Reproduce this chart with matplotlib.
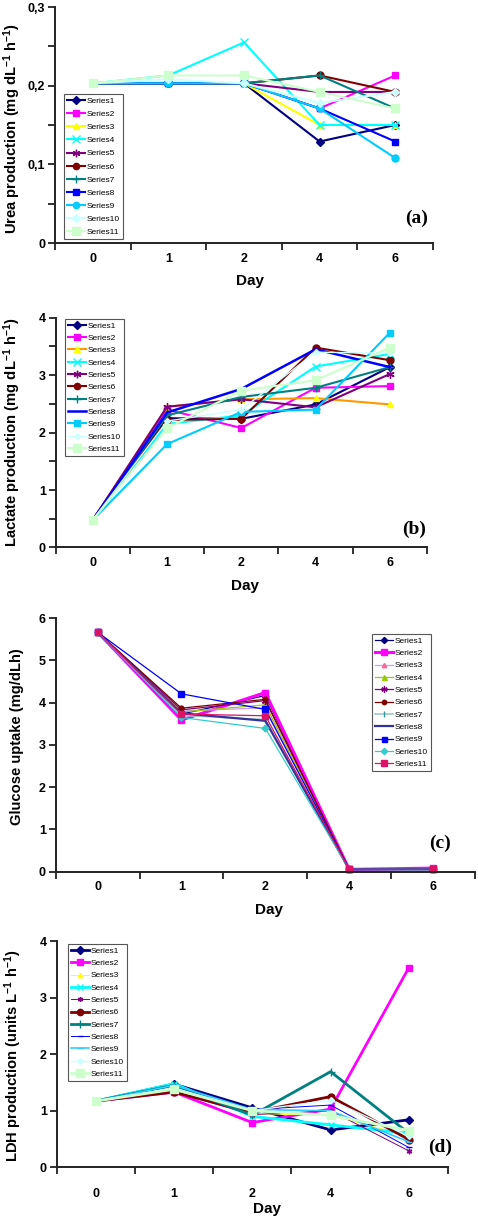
import numpy as np
import matplotlib
matplotlib.use("Agg")
import matplotlib.pyplot as plt
from matplotlib.ticker import FixedLocator, NullFormatter

plt.rcParams['font.family'] = ['Liberation Sans', 'DejaVu Sans']
plt.rcParams['mathtext.fontset'] = 'custom'
plt.rcParams['mathtext.rm'] = 'Liberation Sans:bold'
plt.rcParams['mathtext.bf'] = 'Liberation Sans:bold'
plt.rcParams['mathtext.it'] = 'Liberation Sans:bold'

# ---------------- data ----------------
days = ['0', '1', '2', '4', '6']
series_names = ['Series%d' % i for i in range(1, 12)]

urea = [
    [0.203, 0.203, 0.203, 0.129, 0.150],
    [0.203, 0.203, 0.203, 0.171, 0.213],
    [0.203, 0.203, 0.203, 0.150, 0.150],
    [0.203, 0.213, 0.255, 0.150, 0.150],
    [0.203, 0.203, 0.203, 0.192, 0.192],
    [0.203, 0.203, 0.203, 0.213, 0.192],
    [0.203, 0.203, 0.203, 0.213, 0.171],
    [0.203, 0.203, 0.203, 0.171, 0.129],
    [0.203, 0.203, 0.203, 0.171, 0.108],
    [0.203, 0.208, 0.203, 0.178, 0.192],
    [0.203, 0.213, 0.213, 0.192, 0.171],
]

lactate = [
    [0.48, 2.25, 2.24, 2.49, 3.14],
    [0.48, 2.40, 2.08, 2.78, 2.81],
    [0.48, 2.45, 2.58, 2.60, 2.49],
    [0.48, 2.15, 2.30, 3.15, 3.37],
    [0.48, 2.45, 2.58, 2.44, 3.02],
    [0.48, 2.22, 2.24, 3.48, 3.26],
    [0.48, 2.30, 2.62, 2.78, 3.14],
    [0.48, 2.35, 2.76, 3.45, 3.14],
    [0.48, 1.80, 2.36, 2.40, 3.74],
    [0.48, 2.20, 2.40, 3.40, 3.38],
    [0.48, 2.08, 2.73, 2.91, 3.48],
]

glucose = [
    [5.67, 3.73, 4.17, 0.05, 0.05],
    [5.67, 3.59, 4.24, 0.05, 0.08],
    [5.67, 3.80, 3.88, 0.05, 0.05],
    [5.67, 3.78, 3.95, 0.05, 0.05],
    [5.67, 3.83, 4.05, 0.05, 0.05],
    [5.67, 3.87, 4.08, 0.05, 0.05],
    [5.67, 3.70, 3.60, 0.05, 0.05],
    [5.67, 3.75, 3.57, 0.05, 0.05],
    [5.67, 4.21, 3.84, 0.05, 0.05],
    [5.67, 3.65, 3.39, 0.05, 0.05],
    [5.67, 3.73, 3.69, 0.05, 0.05],
]

ldh = [
    [1.17, 1.47, 1.05, 0.66, 0.84],
    [1.17, 1.33, 0.79, 1.03, 3.53],
    [1.17, 1.40, 0.95, 0.92, 0.55],
    [1.17, 1.48, 0.90, 0.75, 0.60],
    [1.17, 1.33, 0.93, 1.00, 0.29],
    [1.17, 1.33, 0.97, 1.25, 0.49],
    [1.17, 1.45, 0.92, 1.69, 0.60],
    [1.17, 1.45, 1.02, 1.10, 0.35],
    [1.17, 1.45, 1.02, 1.00, 0.45],
    [1.17, 1.40, 1.00, 1.19, 0.55],
    [1.17, 1.38, 1.00, 0.92, 0.65],
]

# ---------------- styles ----------------
AST = (6, 2, 0)
NAVY, MAG, YEL, CYAN, PURP, DRED, TEAL, BLUE, SKY, LCYAN, LGREEN = (
    '#000080', '#FF00FF', '#FFFF00', '#00FFFF', '#800080', '#800000',
    '#008080', '#0000FF', '#00CCFF', '#CCFFFF', '#CCFFCC')

def st(color, marker, lw, ms, mfc=None, mec=None):
    return dict(color=color, marker=marker, lw=lw, ms=ms,
                mfc=mfc if mfc else color, mec=mec if mec else (mfc if mfc else color))

style_a = [st(NAVY, 'D', 1.5, 4), st(MAG, 's', 1.5, 5), st(YEL, '^', 1.5, 5),
           st(CYAN, 'x', 1.5, 6), st(PURP, AST, 1.5, 6), st(DRED, 'o', 1.5, 5),
           st(TEAL, '+', 1.5, 6), st(BLUE, 's', 1.5, 5), st(SKY, 'o', 1.5, 5),
           st(LCYAN, 'D', 1.5, 4), st(LGREEN, 's', 1.5, 6)]
style_b = [st(NAVY, 'D', 1.5, 4), st(MAG, 's', 1.5, 5), st('#FF9900', '^', 1.5, 5, YEL),
           st(CYAN, 'x', 1.5, 6), st(PURP, AST, 1.5, 6), st(DRED, 'o', 1.5, 5),
           st(TEAL, '+', 1.5, 6), st(BLUE, 'None', 1.8, 5), st(SKY, 's', 1.5, 5),
           st(LCYAN, 'D', 1.0, 3), st(LGREEN, 's', 1.5, 6)]
style_c = [st(NAVY, 'D', 0.9, 3.5), st(MAG, 's', 2.2, 5), st('#CC99FF', '^', 0.9, 3.5, '#FF6699'),
           st('#99CC00', '^', 0.9, 4), st(PURP, AST, 0.9, 5), st(DRED, 'o', 0.9, 3.5),
           st('#99CCCC', '|', 1.2, 5, '#339999'), st('#333399', 'None', 1.6, 4), st(BLUE, 's', 0.9, 4),
           st('#33CCCC', 'D', 0.9, 3.5), st('#DD1166', 's', 0.9, 4.5)]
style_d = [st(NAVY, 'D', 2.0, 4), st(MAG, 's', 2.0, 5), st(YEL, '^', 0.7, 3.5),
           st(CYAN, 'x', 2.0, 5), st(PURP, AST, 0.7, 4), st(DRED, 'o', 2.0, 5),
           st(TEAL, '+', 2.0, 6), st(BLUE, '_', 0.7, 4), st('#33CCFF', '_', 1.2, 5),
           st(LCYAN, 'D', 1.0, 3), st(LGREEN, 's', 2.0, 6)]

W, H = 478, 1216
fig = plt.figure(figsize=(W / 100, H / 100), dpi=100)

def rect(l, t, r, b):
    return [l / W, 1 - b / H, (r - l) / W, (b - t) / H]

panels = [
    dict(data=urea, style=style_a, rect=rect(55, 7, 433, 243), ylim=0.3,
         yticks=[0, 0.1, 0.2, 0.3], ylabels=['0', '0,1', '0,2', '0,3'], yminor=[0.05, 0.15, 0.25],
         ylabel=r'Urea production (mg dL$^{-1}$ h$^{-1}$)',
         leg=(64, 94), ls=0.64, tag='(a)', tagpos=(417, 218), daypos=(250, 281), xpad=3,
         ylx=(23, 128)),
    dict(data=lactate, style=style_b, rect=rect(55.7, 317.7, 427, 547.5), ylim=4,
         yticks=[0, 1, 2, 3, 4], ylabels=['0', '1', '2', '3', '4'], yminor=[0.5, 1.5, 2.5, 3.5],
         ylabel=r'Lactate production (mg dL$^{-1}$ h$^{-1}$)',
         leg=(65, 319), ls=0.54, tag='(b)', tagpos=(414, 529), daypos=(245, 586), xpad=3,
         ylx=(23, 432)),
    dict(data=glucose, style=style_c, rect=rect(55.7, 618.3, 475, 871.5), ylim=6,
         yticks=[0, 1, 2, 3, 4, 5, 6], ylabels=['0', '1', '2', '3', '4', '5', '6'], yminor=[],
         ylabel='Glucose uptake (mg/dLh)',
         leg=(372, 634), ls=0.54, tag='(c)', tagpos=(440, 843), daypos=(269, 910), xpad=3,
         ylx=(24, 737)),
    dict(data=ldh, style=style_d, rect=rect(56.7, 941, 448, 1167.3), ylim=4,
         yticks=[0, 1, 2, 3, 4], ylabels=['0', '1', '2', '3', '4'], yminor=[],
         ylabel=r'LDH production (units L$^{-1}$ h$^{-1}$)',
         leg=(68, 944), ls=0.54, tag='(d)', tagpos=(440, 1147), daypos=(267, 1209), xpad=11,
         ylx=(24, 1056)),
]

x = np.arange(len(days))
for p in panels:
    ax = fig.add_axes(p['rect'])
    for i, (vals, s) in enumerate(zip(p['data'], p['style'])):
        ax.plot(x, vals, color=s['color'], lw=s['lw'], marker=s['marker'], ms=s['ms'],
                mfc=s['mfc'], mec=s['mec'], mew=1.0, label=series_names[i], clip_on=False)
    ax.set_xlim(-0.5, len(days) - 0.5)
    ax.set_ylim(0, p['ylim'])
    for sp in ['top', 'right']:
        ax.spines[sp].set_visible(False)
    for sp in ['left', 'bottom']:
        ax.spines[sp].set_linewidth(1.4)
        ax.spines[sp].set_color('#222222')
    ax.xaxis.set_major_locator(FixedLocator(np.arange(-0.5, len(days), 1.0)))
    ax.xaxis.set_major_formatter(NullFormatter())
    ax.xaxis.set_minor_locator(FixedLocator(x))
    ax.set_xticklabels(days, minor=True)
    ax.tick_params(axis='x', which='major', direction='out', length=5, width=1.3, color='#222222')
    ax.tick_params(axis='x', which='minor', length=0, pad=p['xpad'] + 4, labelsize=9)
    ax.set_yticks(p['yticks'])
    ax.set_yticklabels(p['ylabels'])
    if p['yminor']:
        ax.set_yticks(p['yminor'], minor=True)
    ax.tick_params(axis='y', which='both', direction='out', length=5, width=1.3, color='#222222',
                   labelsize=9, pad=2)
    for lab in ax.get_xticklabels(minor=True) + ax.get_yticklabels():
        lab.set_fontweight('bold')
    fig.text(p['ylx'][0] / W, 1 - p['ylx'][1] / H, p['ylabel'], rotation=90,
             ha='right', va='center', fontsize=10.6, fontweight='bold')
    fig.text(p['daypos'][0] / W, 1 - p['daypos'][1] / H, 'Day', ha='center', va='center',
             fontsize=11, fontweight='bold')
    fig.text(p['tagpos'][0] / W, 1 - p['tagpos'][1] / H, p['tag'], ha='center', va='center',
             fontsize=14, fontweight='bold', family='Liberation Serif')
    lg = ax.legend(loc='upper left', bbox_to_anchor=(p['leg'][0] / W, 1 - p['leg'][1] / H),
                   bbox_transform=fig.transFigure, borderaxespad=0, fontsize=6,
                   frameon=True, fancybox=False, framealpha=1, edgecolor='#555555',
                   handlelength=2.2, handletextpad=0.2, labelspacing=p['ls'], borderpad=0.35,
                   markerscale=0.9)
    lg.get_frame().set_linewidth(0.8)

fig.savefig('out.png', dpi=100)
